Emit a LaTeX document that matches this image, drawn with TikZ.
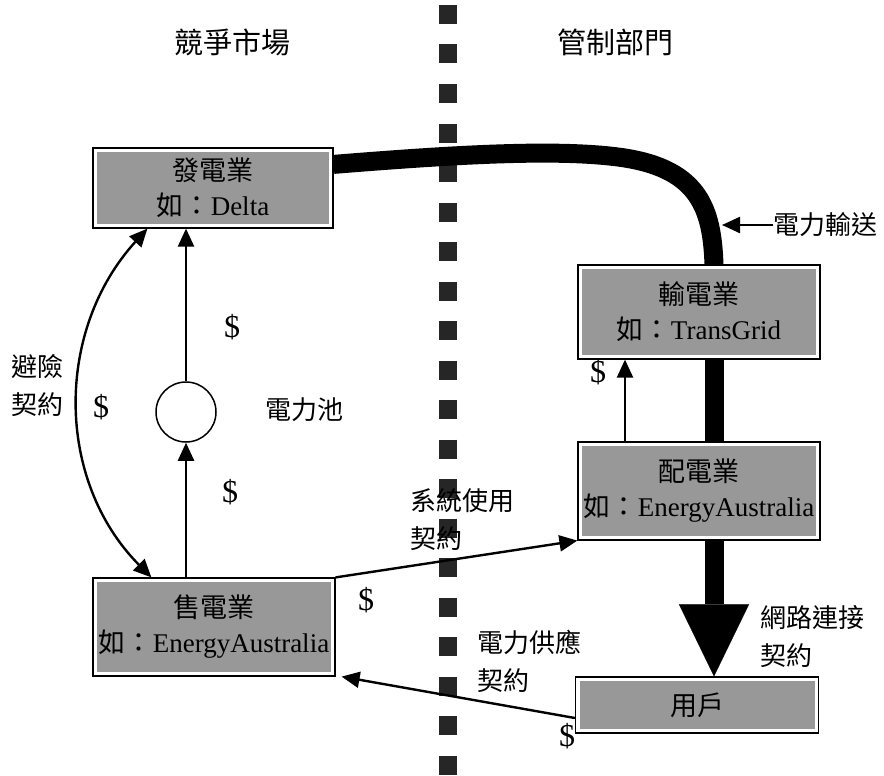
\documentclass[tikz,border=0pt]{standalone}
\usepackage{fontspec}
\setmainfont{Liberation Serif}
\newfontfamily\cjk{Noto Sans CJK TC}
\usetikzlibrary{arrows.meta, positioning}
\definecolor{boxgray}{RGB}{152,152,152}

\begin{document}
\begin{tikzpicture}[x=1pt, y=-1pt,
    unit/.style={rectangle, draw=black, line width=1.2pt, fill=white,
                minimum width=242pt, minimum height=96pt, inner sep=2pt,
                align=center, font=\fontsize{27}{35}\selectfont,
                path picture={\fill[boxgray]
                  ([shift={(4pt,4pt)}]path picture bounding box.south west) rectangle
                  ([shift={(-4pt,-4pt)}]path picture bounding box.north east);}},
    lbl/.style={font=\cjk\fontsize{26}{38}\selectfont, align=left, inner sep=0pt},
    ttl/.style={font=\cjk\fontsize{29}{34}\selectfont},
    money/.style={font=\fontsize{32}{34}\selectfont, inner sep=0pt},
    arr/.style={-{Triangle[length=18pt, width=16pt]}, line width=2.4pt},
    darr/.style={{Triangle[length=18pt, width=16pt]}-{Triangle[length=18pt, width=16pt]},
                line width=2.4pt},
    power/.style={line width=19pt, black}]

  \useasboundingbox (0,0) rectangle (884,776);

  %--- Linea divisoria ---
  \coordinate (divtop) at (448,5);
  \coordinate (divbot) at (448,776);
  \draw[line width=18pt, black!85, dash pattern=on 19pt off 20.5pt] (divtop) -- (divbot);

  %--- Titulos ---
  \node[ttl] (tmarket) at (232,42) {競爭市場};
  \node[ttl] (tregul)  at (615,42) {管制部門};

  %--- Empresas ---
  \node[unit, minimum width=240pt, minimum height=80pt] (gen) at (213,188)
    {{\cjk 發電業}\\{\cjk 如：}Delta};
  \node[unit, minimum height=94pt] (trans)  at (699,312)
    {{\cjk 輸電業}\\{\cjk 如：}TransGrid};
  \node[unit, minimum height=98pt] (dist)   at (699,491)
    {{\cjk 配電業}\\{\cjk 如：}EnergyAustralia};
  \node[unit, minimum height=98pt] (retail) at (214,627)
    {{\cjk 售電業}\\{\cjk 如：}EnergyAustralia};
  \node[unit, minimum width=243pt, minimum height=56pt] (user) at (697,705)
    {{\cjk 用戶}};
  \node[circle, draw, line width=1.5pt, minimum size=60pt] (pool) at (186,412) {};

  %--- Flujo de energia ---
  \draw[power] ([yshift=-17pt]gen.north east)
    .. controls (450,155) and (560,148) .. (625,158)
    .. controls (700,170) and (712,210) .. ([xshift=15pt]trans.north);
  \draw[power] ([xshift=15pt]trans.south) -- ([xshift=15pt]dist.north);
  \draw[power, -{Triangle[length=72pt, width=70pt, line width=0.1pt 0]}]
    ([xshift=15pt]dist.south) -- ([xshift=17pt]user.north);

  \node[lbl, anchor=west] (transport) at (773,225) {電力輸送};
  \coordinate (hit) at (722,225);
  \draw[arr] (transport.west) -- (hit);
  \node[lbl, anchor=west] (netconn) at (760,637) {網路連接\\契約};

  %--- Flujos de dinero ---
  \draw[arr] (pool |- retail.north) -- (pool.south);
  \draw[arr] (pool.north) -- (pool |- gen.south);
  \draw[darr] ([xshift=55pt]gen.south west)
    .. controls (55,330) and (55,480) .. ([xshift=59pt]retail.north west);
  \draw[arr] ([xshift=-74pt]dist.north) -- ([xshift=-74pt]trans.south);
  \draw[arr] (retail.north east) -- (dist.south west);
  \draw[arr] ([yshift=-13pt]user.west) -- ([xshift=6pt]retail.south east);

  \node[money] (d1) at (101,407) {\$};
  \node[money] (d2) at (232,327) {\$};
  \node[money] (d3) at (230,492) {\$};
  \node[money] (d4) at (598,372) {\$};
  \node[money] (d5) at (366,600) {\$};
  \node[money] (d6) at (567,736) {\$};

  %--- Etiquetas ---
  \node[lbl] (hedge) at (38,386) {避險\\契約};
  \node[lbl, anchor=west] (poolname) at (265,410) {電力池};
  \node[lbl, anchor=west] (sysuse) at (410,520) {系統使用\\契約};
  \node[lbl, anchor=west] (supply) at (477,661) {電力供應\\契約};
\end{tikzpicture}
\end{document}
